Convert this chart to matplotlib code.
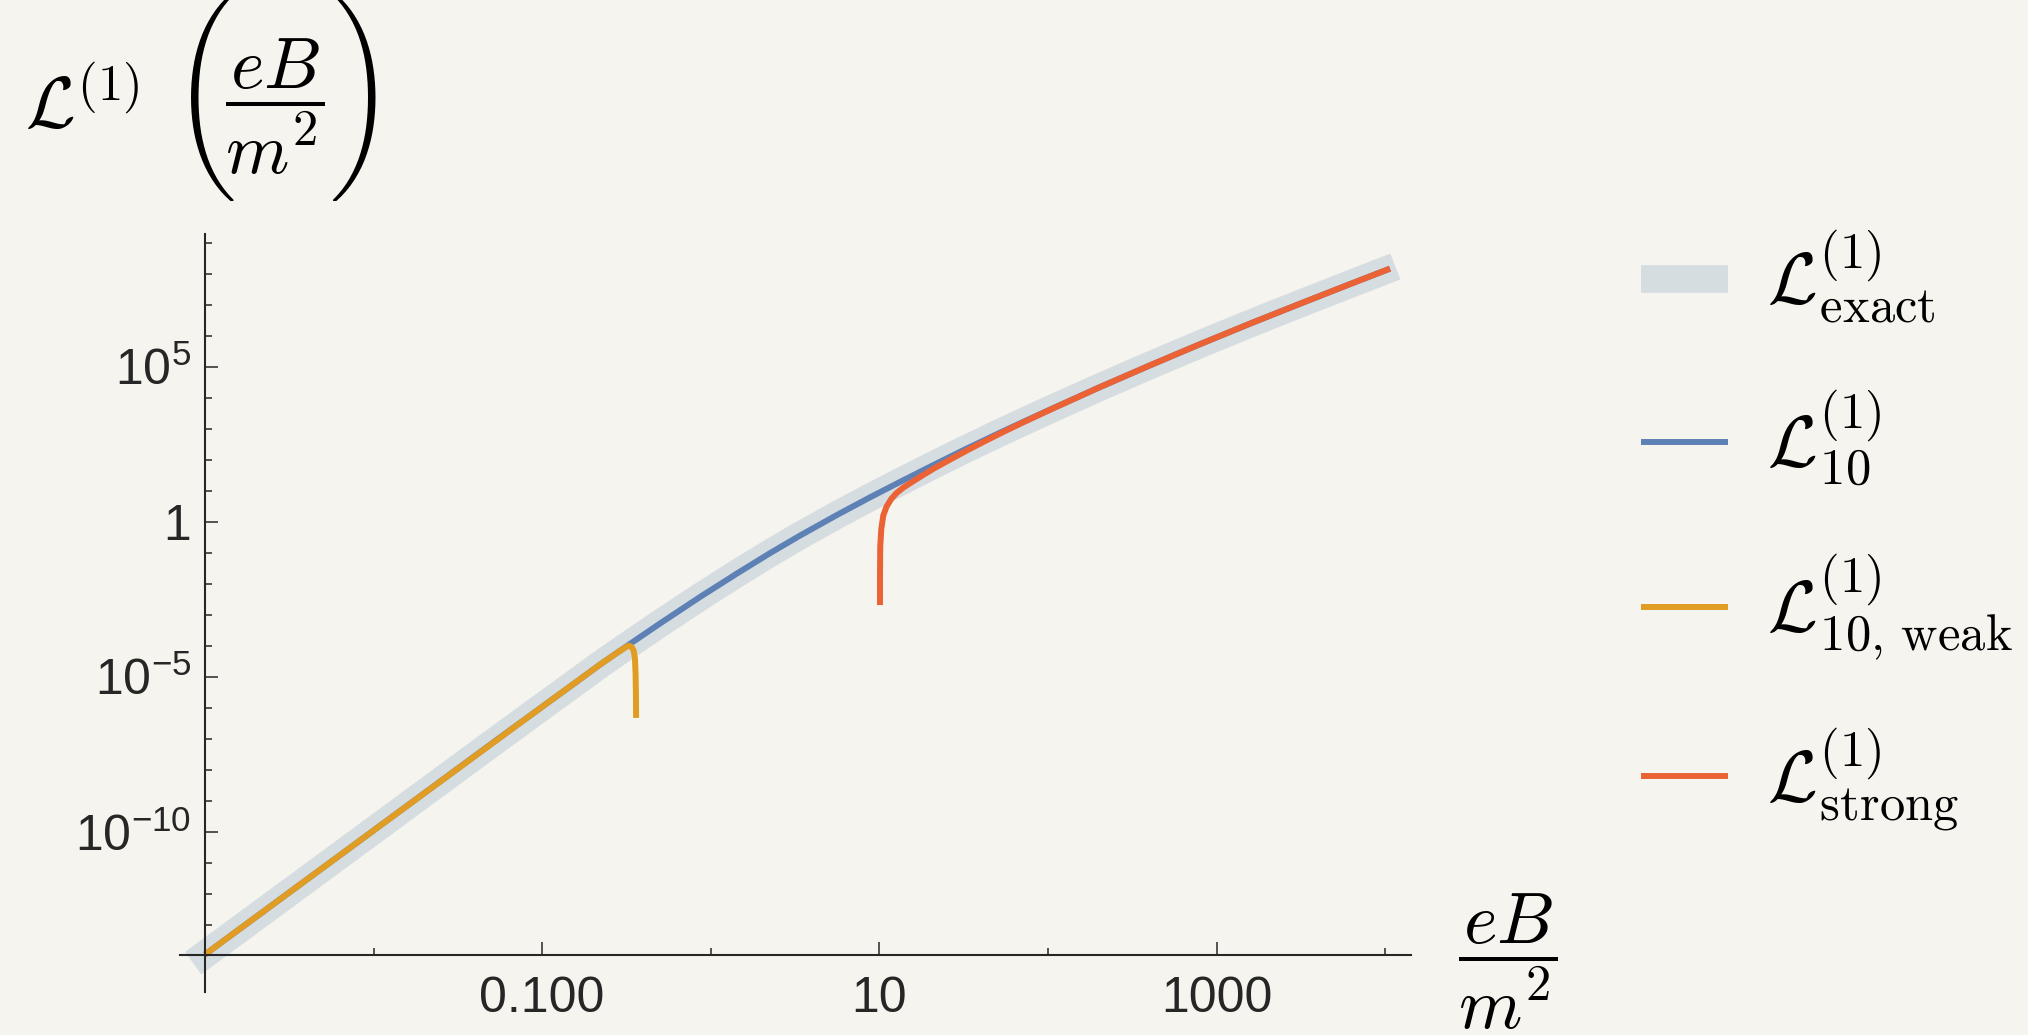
import matplotlib
matplotlib.use('Agg')
import matplotlib.pyplot as plt
from matplotlib.font_manager import FontProperties
from matplotlib.ticker import FixedLocator, FixedFormatter, NullFormatter
from matplotlib.transforms import Bbox, TransformedBbox
import numpy as np

# tick labels in a Helvetica-like face, math labels in Computer Modern
plt.rcParams['font.family'] = ['Liberation Sans', 'DejaVu Sans']
plt.rcParams['mathtext.fontset'] = 'custom'
plt.rcParams['mathtext.rm'] = 'Liberation Sans'
plt.rcParams['mathtext.it'] = 'Liberation Sans:italic'
plt.rcParams['mathtext.bf'] = 'Liberation Sans:bold'

# curves as (log10 eB/m^2, log10 L) pairs
exact_lx = [-3.07, -2.0, -1.25, -1.0, -0.8, -0.657, -0.5, -0.3, -0.064, 0.15, 0.35,
            0.529, 0.75, 0.95, 1.122, 1.3, 1.5, 1.7, 1.834, 2.0, 2.3, 2.6, 2.9,
            3.2, 3.5, 3.8, 4.06]
exact_ly = [-14.24, -9.96, -6.96, -5.97, -5.18, -4.61, -4.02, -3.28, -2.43, -1.69, -1.02,
            -0.45, 0.22, 0.80, 1.28, 1.77, 2.31, 2.83, 3.17, 3.585, 4.32, 5.03, 5.72,
            6.39, 7.04, 7.68, 8.23]

l10_lx = [-3.0, -2.0, -1.25, -1.0, -0.8, -0.657, -0.5, -0.3, -0.064, 0.15, 0.35,
          0.529, 0.75, 0.95, 1.122, 1.3, 1.5, 1.7, 1.834, 2.0, 2.3, 2.6, 2.9,
          3.2, 3.5, 3.8, 4.028]
l10_ly = [-13.96, -9.96, -6.96, -5.97, -5.18, -4.61, -4.02, -3.28, -2.43, -1.69, -1.02,
          -0.45, 0.22, 0.80, 1.28, 1.77, 2.31, 2.83, 3.17, 3.585, 4.32, 5.03, 5.72,
          6.39, 7.04, 7.68, 8.16]

weak_lx = [-3.0, -2.0, -1.0, -0.657, -0.55, -0.505, -0.485, -0.47, -0.458, -0.450,
           -0.446, -0.444, -0.443]
weak_ly = [-13.96, -9.96, -5.97, -4.61, -4.21, -4.05, -4.00, -4.04, -4.15, -4.40,
           -4.90, -5.60, -6.33]

strong_lx = [1.0035, 1.0035, 1.005, 1.011, 1.023, 1.042, 1.07, 1.101, 1.14, 1.182,
             1.25, 1.32, 1.42, 1.517, 1.62, 1.715, 1.834, 2.0, 2.3, 2.6, 2.9, 3.2,
             3.5, 3.8, 4.028]
strong_ly = [-2.69, -1.80, -0.81, -0.25, 0.20, 0.48, 0.73, 0.92, 1.09, 1.24,
             1.472, 1.705, 2.005, 2.29, 2.58, 2.84, 3.155, 3.578, 4.32, 5.03, 5.72, 6.39,
             7.04, 7.68, 8.16]

xticks = [0.1, 10, 1000]
xticklabels = ['0.100', '10', '1000']
yticks = [1e-10, 1e-5, 1, 1e5]
yticklabels = [r'$10^{-10}$', r'$10^{-5}$', '1', r'$10^{5}$']

legend_labels = [r'$\mathcal{L}^{(1)}_{\mathrm{exact}}$',
                 r'$\mathcal{L}^{(1)}_{10}$',
                 r'$\mathcal{L}^{(1)}_{10,\,\mathrm{weak}}$',
                 r'$\mathcal{L}^{(1)}_{\mathrm{strong}}$']

bg = '#F5F4EE'
W, H = 2028, 1035

fig = plt.figure(figsize=(W / 100, H / 100), dpi=100, facecolor=bg)
ax = fig.add_axes([180 / W, (H - 991.7) / H, 1230.7 / W, (991.7 - 233.6) / H])
ax.set_facecolor(bg)
ax.set_xscale('log')
ax.set_yscale('log')
ax.set_xlim(10 ** -3.148, 10 ** 4.151)
ax.set_ylim(10 ** -15.16, 10 ** 9.29)

p = lambda v: 10 ** np.array(v)
h1, = ax.plot(p(exact_lx), p(exact_ly), color='#D6DDE1', lw=20, solid_capstyle='butt',
              solid_joinstyle='round')
h2, = ax.plot(p(l10_lx), p(l10_ly), color='#5E81B5', lw=4.3, solid_capstyle='butt',
              solid_joinstyle='round')
h3, = ax.plot(p(weak_lx), p(weak_ly), color='#E19C24', lw=4.3, solid_capstyle='butt',
              solid_joinstyle='round')
h4, = ax.plot(p(strong_lx), p(strong_ly), color='#EB6235', lw=4.3, solid_capstyle='butt',
              solid_joinstyle='round')

# Mathematica-style crossing axes
for s in ['top', 'right']:
    ax.spines[s].set_visible(False)
ax.spines['left'].set_position(('data', 1e-3))
ax.spines['bottom'].set_position(('data', 10 ** -13.98))
for s in ['left', 'bottom']:
    ax.spines[s].set_linewidth(1.5)
    ax.spines[s].set_color('#262626')

ax.xaxis.set_major_locator(FixedLocator(xticks))
ax.xaxis.set_major_formatter(FixedFormatter(xticklabels))
ax.xaxis.set_minor_locator(FixedLocator([0.01, 1, 100, 1e4]))
ax.xaxis.set_minor_formatter(NullFormatter())
ax.yaxis.set_major_locator(FixedLocator(yticks))
ax.yaxis.set_major_formatter(FixedFormatter(yticklabels))
ax.yaxis.set_minor_locator(FixedLocator([10.0 ** k for k in range(-15, 10) if k % 5 != 0]))
ax.yaxis.set_minor_formatter(NullFormatter())

ax.tick_params(which='both', direction='in', color='#262626', width=1.1,
               labelsize=36, labelcolor='#262626')
ax.tick_params(which='major', length=9.4)
ax.tick_params(which='minor', length=4.8)
ax.tick_params(axis='x', which='major', pad=15)
ax.tick_params(axis='y', which='major', pad=10)

# y label: symbol, tall brackets, fraction
fig.text(25 / W, 1 - 128 / H, r'$\mathcal{L}^{(1)}$',
         fontsize=52, math_fontfamily='cm', ha='left', va='baseline')

renderer = fig.canvas.get_renderer()
filler = r'\genfrac{}{}{0}{0}{|}{|}'


def bracket(src, x, ha, target_h=212.0, yc=97.7):
    # \left/\right brackets grow with their content; size the text so the
    # bracket comes out tall enough, then clip away the filler
    t = fig.text(x / W, 1 - yc / H, src, fontsize=60, math_fontfamily='cm',
                 ha=ha, va='center')
    size = 60 * target_h / t.get_window_extent(renderer).height
    t.set_fontsize(size)
    total = t.get_window_extent(renderer).width
    tmp = fig.text(0, 0, '$' + filler + '$', fontsize=size, math_fontfamily='cm')
    inner = tmp.get_window_extent(renderer).width
    tmp.remove()
    pw = total - inner
    if ha == 'left':
        x0, x1 = x - 10, x + pw - 1
    else:
        x0, x1 = x - pw + 1, x + 10
    t.set_clip_box(TransformedBbox(Bbox.from_extents(x0 / W, 0.0, x1 / W, 1.0),
                                   fig.transFigure))
    return t


bracket(r'$\left(' + filler + r'\right.$', 172, 'left')
bracket(r'$\left.' + filler + r'\right)$', 377, 'right')
fig.text(275 / W, 1 - 107 / H, r'$\dfrac{eB}{m^2}$',
         fontsize=52, math_fontfamily='cm', ha='center', va='center')

fig.text(1508 / W, 1 - 962 / H, r'$\dfrac{eB}{m^2}$',
         fontsize=52, math_fontfamily='cm', ha='center', va='center')

fs = 52
fig.legend([h1, h2, h3, h4], legend_labels, loc='upper left',
           bbox_to_anchor=(1640.7 / W, 1 - 228 / H), frameon=False,
           prop=FontProperties(size=fs, math_fontfamily='cm'),
           handlelength=87 / (fs * 100 / 72), handletextpad=39 / (fs * 100 / 72),
           labelspacing=0.87, borderpad=0, borderaxespad=0)

fig.savefig('out.png', dpi=100, facecolor=bg)
